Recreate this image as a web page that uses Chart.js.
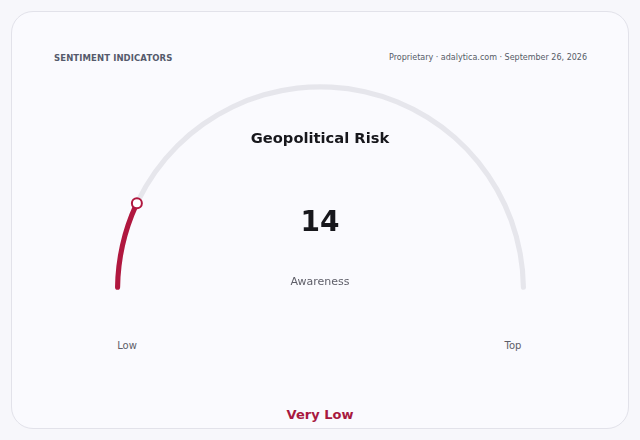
<!DOCTYPE html>
<html>
<head>
<meta charset="utf-8">
<script src="https://cdn.jsdelivr.net/npm/chart.js@4"></script>
<style>
  html, body { margin: 0; padding: 0; background: #f7f7fb; font-family: "DejaVu Sans", sans-serif; }
  .card {
    position: absolute; left: 11px; top: 11px; width: 616px; height: 416px;
    background: #fafafe; border: 1px solid #e2e2ea; border-radius: 22px;
  }
  .abs { position: absolute; white-space: nowrap; }
  #gauge { position: absolute; left: 104.5px; top: 73.5px; width: 431px; height: 226px; }
</style>
</head>
<body>
<div class="card"></div>
<div class="abs" id="kicker" style="left:54px; top:53px; font-size:8.5px; font-weight:bold; color:#555a6c; letter-spacing:0.1px;"></div>
<div class="abs" id="source" style="right:53px; top:53px; font-size:8px; color:#555a66;"></div>
<canvas id="gauge" width="431" height="226"></canvas>
<div class="abs" id="title" style="left:0; width:640px; text-align:center; top:129px; font-size:14.7px; font-weight:bold; color:#17171c;"></div>
<div class="abs" id="value" style="left:0; width:640px; text-align:center; top:205px; font-size:28px; font-weight:bold; color:#17171c;"></div>
<div class="abs" id="unit" style="left:0; width:640px; text-align:center; top:275px; font-size:11px; color:#5e5e68;"></div>
<div class="abs" id="lowLabel" style="left:87px; width:80px; text-align:center; top:340px; font-size:10px; color:#5e5e68;"></div>
<div class="abs" id="topLabel" style="left:473px; width:80px; text-align:center; top:340px; font-size:10px; color:#5e5e68;"></div>
<div class="abs" id="band" style="left:0; width:640px; text-align:center; top:407px; font-size:13px; font-weight:bold; color:#a8183f;"></div>
<script>
const gaugeTitle = 'Geopolitical Risk';
const gaugeUnit = 'Awareness';
const gaugeValue = [14];
const gaugeRange = [0, 100];
const rangeLabels = ['Low', 'Top'];
const bandLabel = ['Very Low'];
const headerTexts = ['SENTIMENT INDICATORS', 'Proprietary · adalytica.com · September 26, 2026'];

const RED = '#b0173f';
const TRACK = '#e6e6ec';

document.getElementById('kicker').textContent = headerTexts[0];
document.getElementById('source').textContent = headerTexts[1];
document.getElementById('title').textContent = gaugeTitle;
document.getElementById('value').textContent = gaugeValue[0];
document.getElementById('unit').textContent = gaugeUnit;
document.getElementById('lowLabel').textContent = rangeLabels[0];
document.getElementById('topLabel').textContent = rangeLabels[1];
document.getElementById('band').textContent = bandLabel[0];

// knob sitting at the end of the value arc
const knobPlugin = {
  id: 'knob',
  afterDatasetsDraw(chart) {
    const arc = chart.getDatasetMeta(0).data[0];
    if (!arc) return;
    const { x, y, endAngle, innerRadius, outerRadius } = arc.getProps(['x', 'y', 'endAngle', 'innerRadius', 'outerRadius'], true);
    const r = (innerRadius + outerRadius) / 2;
    const ctx = chart.ctx;
    ctx.save();
    ctx.beginPath();
    ctx.arc(x + r * Math.cos(endAngle), y + r * Math.sin(endAngle), 5, 0, Math.PI * 2);
    ctx.fillStyle = '#ffffff';
    ctx.fill();
    ctx.lineWidth = 2;
    ctx.strokeStyle = RED;
    ctx.stroke();
    ctx.restore();
  }
};

new Chart(document.getElementById('gauge'), {
  type: 'doughnut',
  data: {
    labels: ['Value', 'Remaining'],
    datasets: [{
      data: [gaugeValue[0] - gaugeRange[0], gaugeRange[1] - gaugeValue[0]],
      backgroundColor: [RED, TRACK],
      borderWidth: 0,
      borderRadius: 3,
    }],
  },
  options: {
    responsive: false,
    animation: false,
    rotation: -90,
    circumference: 180,
    cutout: '97.5%',
    layout: { padding: 10 },
    plugins: {
      legend: { display: false },
      tooltip: { enabled: false },
    },
  },
  plugins: [knobPlugin],
});
</script>
</body>
</html>
